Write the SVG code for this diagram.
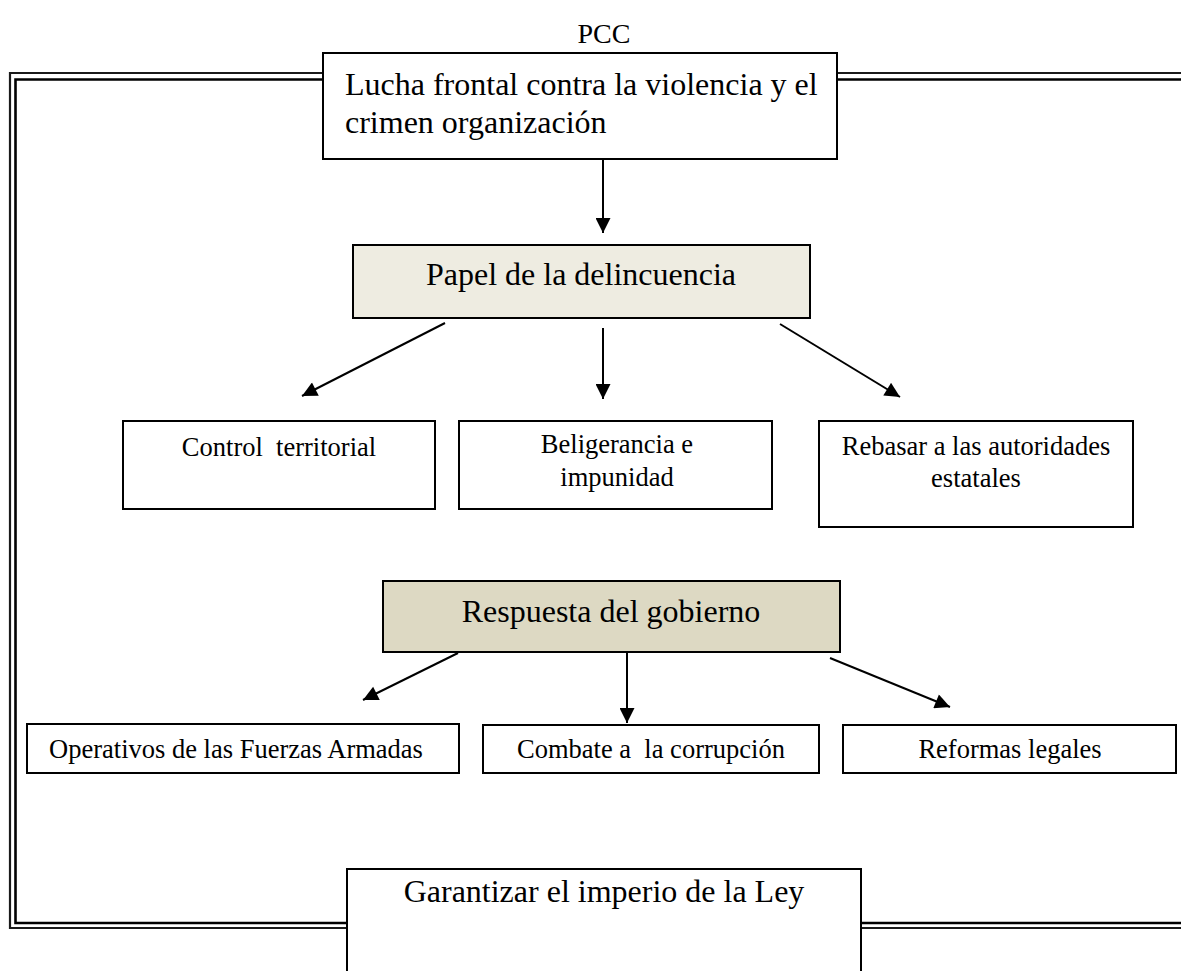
<svg xmlns="http://www.w3.org/2000/svg" width="1181" height="971" viewBox="0 0 1181 971">
<style>
text{font-family:"Liberation Serif","Times New Roman",serif;fill:#000}
.big{font-size:32px}
.sm{font-size:26.5px}
.box{stroke:#000;stroke-width:2;fill:#fff}
.fa{stroke:#1a1a1a;stroke-width:2.2;fill:none}
.fb{stroke:#000;stroke-width:2.6;fill:none}
.con{stroke:#000;stroke-width:2;fill:none;marker-end:url(#ah)}
</style>
<defs>
<marker id="ah" viewBox="0 0 10 10" refX="10" refY="5" markerUnits="userSpaceOnUse" markerWidth="16" markerHeight="15" orient="auto">
<path d="M0,0 L10,5 L0,10 z" fill="#000"/>
</marker>
</defs>
<rect width="1181" height="971" fill="#fff"/>
<g id="frame">
<path class="fa" d="M323,73 H10 V928 H347"/>
<path class="fa" d="M837,73 H1181"/>
<path class="fa" d="M861,928 H1181"/>
<path class="fb" d="M323,79.5 H15.5 V923 H347"/>
<path class="fb" d="M837,79.5 H1181"/>
<path class="fb" d="M861,923 H1181"/>
</g>
<g id="pcc"><text x="604" y="43" text-anchor="middle" style="font-size:28px">PCC</text></g>
<g id="connectors">
<line class="con" x1="603" y1="159" x2="603" y2="233"/>
<line class="con" x1="445" y1="323" x2="302" y2="396"/>
<line class="con" x1="603" y1="328" x2="603" y2="399"/>
<line class="con" x1="780" y1="324" x2="900" y2="397"/>
<line class="con" x1="458" y1="653" x2="363" y2="700"/>
<line class="con" x1="627" y1="652" x2="627" y2="723"/>
<line class="con" x1="830" y1="658" x2="950" y2="707"/>
</g>
<g id="lucha">
<rect class="box" x="323" y="53" width="514" height="106"/>
<text class="big" x="345" y="95">Lucha frontal contra la violencia y el</text>
<text class="big" x="345" y="133">crimen organización</text>
</g>
<g id="papel">
<rect class="box" x="353" y="245" width="457" height="73" style="fill:#EEECE1"/>
<text class="big" x="581" y="285" text-anchor="middle">Papel de la delincuencia</text>
</g>
<g id="control">
<rect class="box" x="123" y="421" width="312" height="88"/>
<text class="sm" x="279" y="456" text-anchor="middle" xml:space="preserve">Control  territorial</text>
</g>
<g id="beligerancia">
<rect class="box" x="459" y="421" width="313" height="88"/>
<text class="sm" x="617" y="453" text-anchor="middle">Beligerancia e</text>
<text class="sm" x="617" y="486" text-anchor="middle">impunidad</text>
</g>
<g id="rebasar">
<rect class="box" x="819" y="421" width="314" height="106"/>
<text class="sm" x="976" y="455" text-anchor="middle">Rebasar a las autoridades</text>
<text class="sm" x="976" y="487" text-anchor="middle">estatales</text>
</g>
<g id="respuesta">
<rect class="box" x="383" y="581" width="457" height="71" style="fill:#DDD9C3"/>
<text class="big" x="611" y="622" text-anchor="middle">Respuesta del gobierno</text>
</g>
<g id="operativos">
<rect class="box" x="27" y="724" width="432" height="49"/>
<text class="sm" x="236" y="758" text-anchor="middle">Operativos de las Fuerzas Armadas</text>
</g>
<g id="combate">
<rect class="box" x="483" y="725" width="336" height="48"/>
<text class="sm" x="651" y="758" text-anchor="middle" xml:space="preserve">Combate a  la corrupción</text>
</g>
<g id="reformas">
<rect class="box" x="843" y="725" width="333" height="48"/>
<text class="sm" x="1010" y="758" text-anchor="middle">Reformas legales</text>
</g>
<g id="garantizar">
<rect class="box" x="347" y="869" width="514" height="110"/>
<text class="big" x="604" y="902" text-anchor="middle">Garantizar el imperio de la Ley</text>
</g>
</svg>
